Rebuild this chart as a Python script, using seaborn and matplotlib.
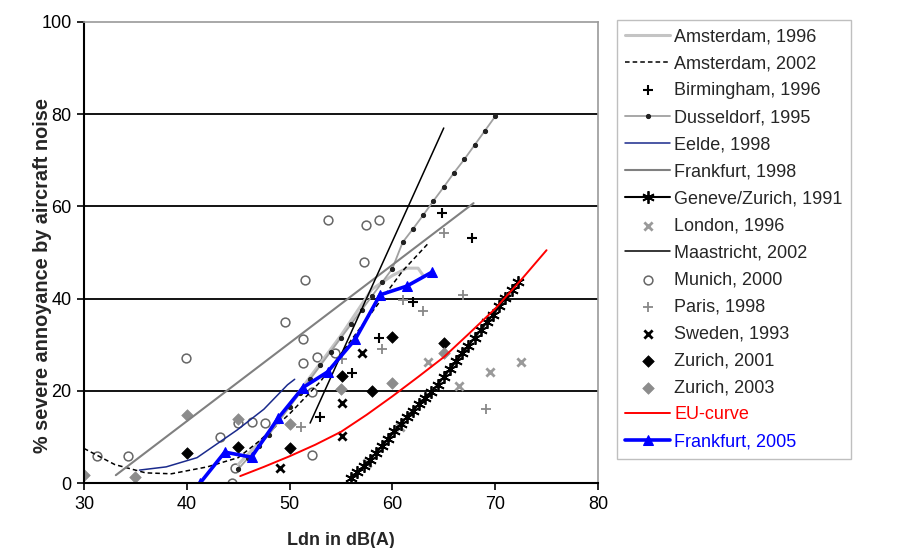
import seaborn as sns
import pandas as pd
import matplotlib.pyplot as plt
import numpy as np

# --- data ---
ams96_x = [45, 48, 50, 53, 55, 58, 60, 61.4, 62.5, 63]
ams96_y = [4, 11, 17, 26, 32, 42, 45, 46.6, 46.6, 45]

ams02_x = [30, 33, 36, 38.5, 42, 45, 47, 50, 53, 56, 59, 61, 63.5]
ams02_y = [7.5, 4, 2.2, 2, 3.5, 5.5, 9, 15, 22, 31, 40, 46, 52]

birm_x = [53.0, 56.1, 58.7, 62.0, 64.8, 67.7]
birm_y = [14.3, 23.8, 31.4, 39.2, 58.6, 53.2]

dus_x = [45, 46, 47, 48, 49, 50, 51, 52, 53, 54, 55, 56, 57, 58,
         59, 60, 61, 62, 63, 64, 65, 66, 67, 68, 69, 70]
dus_y = [3, 5.5, 8, 10.5, 13.5, 16.5, 19.5, 22.5, 25.5, 28.5, 31.5, 34.5, 37.5, 40.5,
         43.5, 46.5, 52.2, 55.1, 58.1, 61.2, 64.2, 67.3, 70.2, 73.3, 76.4, 79.5]

eelde_x = [35.4, 38, 41, 44.9, 47.5, 49.8, 50.5]
eelde_y = [2.8, 3.5, 5.5, 11.5, 16, 21.3, 22.5]

fra98_x = [33.1, 67.9]
fra98_y = [1.7, 60.7]

gz_x = [56.0, 56.6, 57.2, 57.8, 58.4, 59.0, 59.6, 60.2, 60.8, 61.4, 62.0, 62.6,
        63.2, 63.8, 64.4, 65.0, 65.6, 66.2, 66.8, 67.4, 68.0, 68.6, 69.2, 69.8,
        70.4, 71.0, 71.6, 72.2]
gz_y = [1.0, 2.3, 3.6, 5.0, 6.5, 8.0, 9.6, 11.2, 12.8, 14.3, 15.7, 17.1,
        18.5, 19.8, 21.3, 23.0, 24.7, 26.4, 28.1, 29.8, 31.5, 33.2, 34.9, 36.5,
        38.3, 40.1, 41.8, 43.5]

lon_x = [57.5, 60.7, 63.5, 66.5, 69.5, 72.5]
lon_y = [4.3, 12.1, 26.2, 21.0, 24.1, 26.2]

maas_x = [52, 65]
maas_y = [13, 77]

mun_x = [31.3, 34.3, 39.9, 43.2, 44.4, 44.7, 45.0, 46.3, 47.6, 49.6, 51.3, 51.5,
         51.3, 52.7, 54.4, 52.2, 52.2, 53.7, 57.2, 57.4, 58.7]
mun_y = [5.9, 5.9, 27.1, 10.0, 0.0, 3.3, 13.0, 13.2, 13.0, 35.0, 31.2, 44.0,
         26.0, 27.3, 28.2, 19.7, 6.0, 57.0, 48.0, 56.0, 57.0]

par_x = [51.1, 55.1, 59.0, 61.0, 63.0, 65.0, 66.9, 69.1]
par_y = [12.1, 27.0, 29.1, 39.7, 37.3, 54.3, 40.8, 16.0]

swe_x = [49.1, 55.1, 55.1, 57.0]
swe_y = [3.3, 10.1, 17.4, 28.1]

zu01_x = [40.0, 45.0, 50.0, 55.1, 58.0, 60.0, 65.0]
zu01_y = [6.5, 7.8, 7.6, 23.2, 19.9, 31.7, 30.4]

zu03_x = [30, 35, 40, 45, 50, 55, 60, 65]
zu03_y = [1.8, 1.4, 14.7, 13.9, 12.8, 20.4, 21.7, 28.2]

eu_x = [45.2, 47.5, 50, 52.5, 55, 57.5, 60, 62.5, 65, 67.5, 70, 72.5, 75]
eu_y = [1.5, 3.5, 5.8, 8.3, 11.1, 14.8, 18.8, 23.0, 27.3, 32.5, 37.8, 44.0, 50.5]

fra05_x = [41.3, 43.7, 46.3, 48.9, 51.3, 53.7, 56.4, 58.8, 61.4, 63.9]
fra05_y = [0.0, 6.7, 5.6, 14.1, 20.7, 24.1, 31.2, 40.8, 42.7, 45.8]

sns.set_style("white")
plt.rcParams['font.family'] = ['Liberation Sans', 'DejaVu Sans']

fig = plt.figure(figsize=(8.97, 5.48), dpi=100)
ax = fig.add_axes([0.0936, 0.1186, 0.573, 0.8413])

for y in [20, 40, 60, 80]:
    ax.axhline(y, color='black', lw=1.3, zorder=0)

def line(x, y, label, **kw):
    sns.lineplot(x=x, y=y, ax=ax, sort=False, estimator=None, label=label, **kw)

def pts(x, y, label, **kw):
    sns.scatterplot(x=x, y=y, ax=ax, label=label, **kw)

line(ams96_x, ams96_y, "Amsterdam, 1996", color='#c4c4c4', lw=2.2)
line(ams02_x, ams02_y, "Amsterdam, 2002", color='black', lw=1.1, linestyle=(0, (3, 2)))
pts(birm_x, birm_y, "Birmingham, 1996", marker='+', color='black', s=60, linewidth=1.5)
line(dus_x, dus_y, "Dusseldorf, 1995", color='#a0a0a0', lw=1.3, marker='o',
     markersize=3, markerfacecolor='#222222', markeredgecolor='#222222')
line(eelde_x, eelde_y, "Eelde, 1998", color='#1a2a8c', lw=1.1)
line(fra98_x, fra98_y, "Frankfurt, 1998", color='#808080', lw=1.5)
line(gz_x, gz_y, "Geneve/Zurich, 1991", color='black', lw=1.5, marker=(6, 2, 0),
     markersize=9, markeredgewidth=1.3, markeredgecolor='black')
pts(lon_x, lon_y, "London, 1996", marker='x', color='#9a9a9a', s=35, linewidth=2)
line(maas_x, maas_y, "Maastricht, 2002", color='black', lw=1.1)
pts(mun_x, mun_y, "Munich, 2000", marker='o', facecolor='white', edgecolor='#666666',
    s=40, linewidth=1.1)
pts(par_x, par_y, "Paris, 1998", marker='+', color='#888888', s=60, linewidth=1.3)
pts(swe_x, swe_y, "Sweden, 1993", marker='x', color='black', s=35, linewidth=2)
pts(zu01_x, zu01_y, "Zurich, 2001", marker='D', color='black', s=35, edgecolor='black')
pts(zu03_x, zu03_y, "Zurich, 2003", marker='D', color='#8c8c8c', s=35, edgecolor='#8c8c8c')
line(eu_x, eu_y, "EU-curve", color='red', lw=1.4)
line(fra05_x, fra05_y, "Frankfurt, 2005", color='blue', lw=2.6, marker='^',
     markersize=7, markeredgecolor='blue')

ax.set_xlim(30, 80)
ax.set_ylim(0, 100)
ax.set_xticks(range(30, 81, 10))
ax.set_yticks(range(0, 101, 20))
ax.tick_params(axis='both', direction='out', length=5, width=1.2, labelsize=13,
               colors='black', left=True, bottom=True, pad=4)
for side in ['left', 'bottom']:
    ax.spines[side].set_color('black')
    ax.spines[side].set_linewidth(1.5)
for side in ['top', 'right']:
    ax.spines[side].set_color('#9a9a9a')
    ax.spines[side].set_linewidth(1.2)

ax.set_xlabel('Ldn in dB(A)', fontsize=13, fontweight='bold', labelpad=14)
ax.set_ylabel('% severe annoyance by aircraft noise', fontsize=14.3, fontweight='bold')
ax.yaxis.set_label_coords(-0.062, 0.45)

handles, labels = ax.get_legend_handles_labels()
leg = ax.legend(handles, labels, loc='upper left', bbox_to_anchor=(0.688, 0.9635),
                bbox_transform=fig.transFigure, fontsize=13, frameon=True,
                fancybox=False, edgecolor='#b0b0b0', handlelength=2.5,
                labelspacing=0.555, borderpad=0.45, handletextpad=0.2,
                borderaxespad=0)
leg.get_frame().set_linewidth(1.0)
for t in leg.get_texts():
    if t.get_text() == 'EU-curve':
        t.set_color('red')
    elif t.get_text() == 'Frankfurt, 2005':
        t.set_color('blue')

plt.savefig('out.png', dpi=100)
